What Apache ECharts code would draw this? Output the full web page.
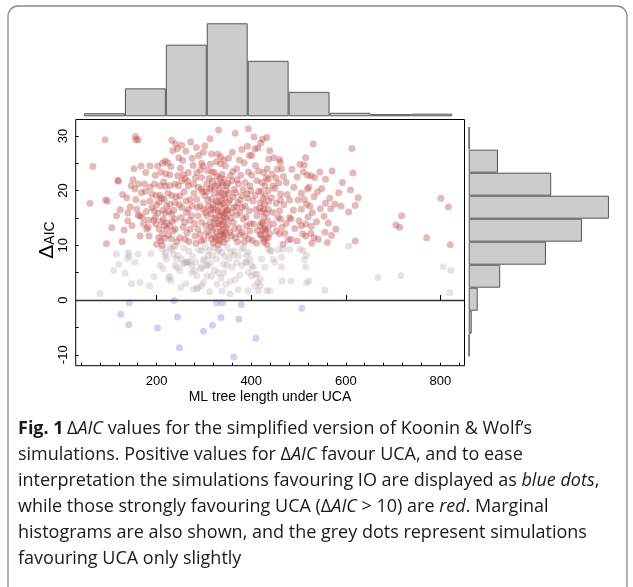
<!DOCTYPE html>
<html><head><meta charset="utf-8">
<script src="https://cdn.jsdelivr.net/npm/echarts@6/dist/echarts.min.js"></script>
<style>html,body{margin:0;padding:0;background:#fff}#c{width:633px;height:587px}</style>
</head><body><div id="c"></div>
<script>
// ---- data ----
const xTickLabels = [200, 400, 600, 800];
const xMinorTicks = [40, 80, 120, 160, 200, 240, 280, 320, 360, 400, 440, 480, 520, 560, 600, 640, 680, 720, 760, 800, 840];
const yTickLabels = [-10, 0, 10, 20, 30];
const yMinorTicks = [-10, -5, 0, 5, 10, 15, 20, 25, 30];
const topBins = ['0-100', '100-200', '200-300', '300-400', '400-500', '500-600', '600-700', '700-800', '800-900'];
const topCounts = [7, 64, 164, 213, 127, 56, 8, 5, 6];
const rightBins = ['-15--10', '-10--5', '-5-0', '0-5', '5-10', '10-15', '15-20', '20-25', '25-30', '30-35'];
const rightCounts = [1, 4, 12, 42, 103, 151, 187, 110, 39, 1];

const bluePts = [[142,-0.5],[124,-2.6],[141,-4.5],[202,-5.1],[237,-0.1],[244,-3.1],[248,-8.7],[299,-5.7],[318,-4.6],[327,-0.5],[336,-3.2],[339,-0.5],[363,-10.4],[374,-3.5],[379,-0.8],[410,-7.0],[507,-1.5]];

const greyPts = [[80,1.2],[109,5.4],[115,8.4],[133,4.9],[140,8.7],[139,7.6],[142,8.1],[154,6.9],[161,8.4],[165,3.2],[188,8.5],[185,2.6],[194,4.3],[207,6.3],[214,5.7],[218,8.1],[221,7.5],[225,4.0],[228,4.3],[239,9.9],[232,9.3],[235,8.4],[242,7.5],[239,6.3],[249,5.4],[256,6.6],[264,6.9],[271,6.9],[278,2.0],[288,2.3],[299,3.2],[274,5.0],[285,4.4],[294,6.0],[295,9.0],[299,7.2],[306,6.3],[309,8.1],[380,9.3],[394,8.7],[390,6.9],[401,6.3],[412,4.7],[419,3.8],[408,2.6],[415,1.7],[433,1.7],[440,9.0],[422,7.5],[429,6.0],
[436,9.3],[443,9.0],[457,9.2],[467,9.3],[481,9.3],[503,9.3],[510,9.0],[517,8.2],[512,7.4],[515,6.1],[464,6.1],[446,7.5],[450,6.9],[464,7.8],[439,1.7],[465,3.5],[484,3.5],[517,3.1],[522,3.5],[556,1.8],[668,4.1],[716,4.5],[806,6.1],[822,5.4],[820,1.4],[606,9.9],[120,6.5],[147,3.0],
[212,9.3],[219,8.7],[228,9.6],[237,9.8],[253,7.5],[260,6.8],[266,7.0],[274,6.3],[280,5.4],[283,6.9],[294,5.7],[301,7.5],[308,6.3],[311,9.0],[318,8.1],[327,7.5],[332,9.3],[338,8.7],[341,6.6],[348,6.3],[353,7.5],[357,8.7],[364,9.0],[369,6.9],[373,8.1],[380,6.3],[388,6.9],[394,5.1],[401,4.4],[408,4.7],[414,3.2],[419,2.6],[393,1.7],[338,1.7],[355,1.1],[346,2.9],[327,2.9],[316,4.4],[306,4.4],[295,2.6],[285,2.0],
[245,8.2],[257,9.5],[268,8.9],[276,8.0],[289,9.2],[303,9.7],[314,6.8],[322,5.5],[330,5.0],[336,4.0],[344,8.0],[350,9.6],[360,6.0],[366,3.7],[376,4.6],[384,9.5],[390,8.2],[398,7.4],[404,6.0],[363,8.2],[329,8.9],[320,9.6],[243,5.9],[230,3.5],[262,3.0],[251,2.3],[372,1.9],[356,3.4],[342,5.0],[312,1.5]];

const redPts = [[59,17.7],[65,24.4],[91,29.3],[92,18.3],[96,18.1],[94,10.3],[118,21.9],[119,21.7],[115,15.4],[123,16.5],[127,10.7],[139,15.9],[137,18.7],[139,14.5],[146,20.9],[155,29.9],[156,29.3],[161,29.3],[154,20.3],[156,18.4],[158,16.6],[161,15.5],[165,15.4],[172,13.9],[165,11.7],[174,21.2],[161,21.2],[179,13.0],[184,11.7],[182,13.3],[186,24.5],[186,20.6],[186,18.1],[190,16.9],[195,16.3],[197,22.8],[195,21.2],[202,24.5],[197,15.1],[198,13.9],[204,11.4],[209,10.8],[212,12.1],[200,10.2],[212,10.0],[207,20.9],[207,19.1],[209,23.4],[212,25.0],[218,25.4],[223,25.1],[216,18.4],[221,17.2],[218,15.9],[214,14.8],[221,13.0],[216,13.6],[228,22.9],[232,29.2],[240,28.5],[234,27.3],[244,27.7],[228,20.9],[239,21.2],[232,19.1],[228,17.5],[239,17.8],[232,15.7],[239,14.8],[228,13.6],[239,13.0],[247,26.0],[246,20.9],[253,21.8],[249,19.0],[253,16.9],[252,15.1],[256,13.3],[249,11.4],[260,11.1],[267,23.3],[260,22.2],[267,20.9],[271,18.4],[267,16.6],[272,28.9],[274,15.4],[271,13.0],[281,11.7],[283,10.4],[278,21.2],[288,20.6],[285,23.3],[285,18.4],[292,17.2],[288,15.4],[295,14.2],[287,13.0],[302,28.2],[313,29.5],[295,25.0],[295,22.4],[306,21.2],[302,19.1],[309,17.2],[306,15.4],[313,14.2],[306,12.4],[316,11.1],[316,26.7],[329,26.7],[317,23.4],[322,23.3],[331,31.1],[335,24.9],[338,23.0],[329,21.2],[345,24.5],[348,20.9],[359,21.8],[369,24.0],[366,30.5],[375,25.6],[373,21.2],[352,17.8],[359,16.0],[348,14.8],[362,14.2],[355,12.4],[366,11.4],[348,11.1],[380,19.1],[387,17.2],[376,16.0],[383,14.8],[390,13.6],[380,12.4],[387,11.7],[392,28.1],[394,31.3],[401,26.4],[408,27.6],[414,27.8],[394,23.4],[397,20.9],[412,21.8],[420,28.7],[424,29.4],[433,29.7],[415,23.6],[426,23.3],[429,20.9],[408,19.1],[419,17.8],[426,16.6],[412,15.4],[422,14.2],[429,13.0],[419,12.0],[426,11.1],[433,10.2],
[531,28.5],[613,27.7],[448,26.0],[460,25.7],[461,25.2],[455,23.9],[464,24.0],[486,23.9],[515,26.0],[512,24.7],[510,23.4],[519,22.8],[526,22.7],[534,22.4],[545,23.4],[557,22.1],[571,23.6],[615,23.2],[436,22.1],[446,20.9],[458,21.4],[474,21.5],[436,20.0],[443,18.7],[462,19.4],[462,18.3],[450,20.4],[481,18.3],[506,19.5],[519,20.3],[522,20.6],[512,18.4],[533,18.9],[517,17.5],[524,17.2],[566,18.6],[557,17.7],[577,17.5],[568,16.7],[610,20.1],[626,18.7],[620,17.3],[606,16.1],[801,18.6],[817,17.0],[436,16.6],[446,16.0],[460,16.3],[457,15.1],[462,14.8],[465,13.3],[471,12.2],[460,12.1],[478,11.0],[484,11.1],[467,10.2],[436,13.3],[436,11.4],[481,15.1],[484,14.8],[506,16.6],[520,15.2],[501,14.5],[506,13.6],[515,13.9],[527,13.5],[509,12.1],[515,11.7],[526,12.2],[533,11.4],[554,15.3],[556,12.4],[561,10.5],[579,13.0],[620,10.8],[718,15.4],[706,13.7],[714,13.3],[771,11.4],[821,10.1],
[218,20.8],[295,20.3],[316,20.6],[338,21.5],[387,21.5],
[322,19.6],[331,19.0],[338,18.2],[326,18.0],[343,19.3],[316,18.5],[334,17.3],[345,17.0],
[320,16.8],[330,16.2],[340,15.6],[325,15.0],[335,14.6],[345,15.9],[315,15.8],[350,16.5],
[322,13.9],[332,13.5],[341,12.8],[327,12.4],[337,12.0],[318,12.9],[346,13.2],
[325,11.3],[334,10.8],[342,10.5],[320,10.4],[330,10.1],[340,11.6],
[421,19.8],[425,18.6],[428,17.5],[422,16.2],[427,15.2],[424,14.0],[430,12.6],[421,11.8],[427,10.6],[423,21.5],[430,19.0],[418,16.8],[432,15.8],[419,13.6],[425,12.9],[431,11.4],
[150,22.0],[168,19.6],[172,17.8],[178,16.2],[170,15.1],[183,14.6],[176,19.9],[190,19.4],[194,14.6],[200,17.4],[203,15.9],[205,13.0],[210,14.3],[213,16.4],[211,18.6],[215,21.6],[219,23.1],[224,19.5],[226,16.2],[222,14.1],[225,11.9],[231,11.2],[235,12.6],[236,16.4],[241,18.9],[244,22.7],[250,24.1],[255,25.5],[258,19.8],[262,18.1],[259,14.2],[264,12.3],[268,10.7],[270,14.6],[275,17.3],[279,19.5],[282,22.3],[277,24.6],[289,26.4],[293,23.8],[297,19.8],[299,16.6],[292,12.0],[300,11.0],[304,13.6],[308,18.3],[311,22.2],[313,24.8],[299,27.0],[284,27.9],[262,27.2],[253,28.3],[275,25.9],
[352,19.5],[356,22.7],[362,18.8],[368,17.0],[364,20.2],[370,15.6],[374,13.2],[371,10.6],[378,22.8],[383,20.2],[385,25.1],[380,27.5],[360,27.0],[352,25.9],[391,19.4],[396,16.3],[398,14.0],[395,11.2],[401,22.8],[404,18.1],[405,13.9],[402,10.9],[409,24.6],[410,16.6],[413,12.7],[411,10.4],[416,19.9],[406,29.8],[396,26.4],[437,25.8],[439,27.3],[434,24.0],[432,22.3],[437,18.0],[435,14.5],[439,12.1],
[444,23.0],[452,22.3],[468,22.6],[476,19.3],[469,17.4],[453,17.7],[447,13.9],[453,12.6],[474,14.0],[489,16.4],[492,13.1],[497,10.8],[490,20.6],[497,22.5],[503,24.8],[499,18.3],[529,16.0],[538,14.3],[540,19.8],[549,20.4],[546,16.7],[542,11.1],[528,10.4],[563,14.1],[570,11.8],[585,19.6],[590,17.2],[593,21.5],
[105,13.2],[128,19.3],[131,12.8],[144,17.0],[148,13.6],[152,24.0],[167,24.5],[177,23.3],[199,19.1],
[205,17.9],[217,11.3],[230,24.4],[233,14.4],[243,10.7],[248,17.4],[256,22.9],[263,16.0],[266,21.7],[280,14.0],[286,16.9],[294,10.8],[298,24.5],
[303,16.0],[305,19.8],[308,23.7],[310,11.9],[312,20.3],[314,16.5],[315,13.3],[318,21.7],[319,17.4],[321,14.9],[323,11.6],[324,20.8],[326,16.5],[328,22.6],[329,14.0],[330,17.9],[331,11.0],[332,20.1],[333,15.4],[334,22.3],[335,12.5],[336,19.6],[337,16.1],[338,13.8],[339,21.0],[340,17.6],[341,14.3],[342,11.9],[343,22.1],[344,18.7],[345,15.2],[346,12.3],[347,20.0],[349,16.3],[350,13.7],[351,21.3],[354,18.3],[357,15.0],[358,11.8],[361,23.5],[363,16.9],[365,13.1],[367,19.6],[370,22.0],[372,17.8],[375,12.0],[377,18.3],[381,16.9],[385,10.6],[389,15.2],[393,18.6],[397,12.6],[399,20.0],[335,26.2],[342,25.6],[326,25.3]];

// ---- chart ----
const chart = echarts.init(document.getElementById('c'), null, {renderer: 'canvas'});
const axFont = {fontFamily: 'Liberation Sans, Arial, sans-serif', fontSize: 13, color: '#000'};
const capFont = 'Open Sans';
const capSize = 18;
const rich = {
  b: {fontFamily: capFont, fontSize: capSize, fontWeight: 'bold', fill: '#1a1a1a', color: '#1a1a1a'},
  n: {fontFamily: capFont, fontSize: capSize, fill: '#1a1a1a', color: '#1a1a1a'},
  i: {fontFamily: capFont, fontSize: capSize, fontStyle: 'italic', fill: '#1a1a1a', color: '#1a1a1a'}
};
const capLines = [
  '{b|Fig. 1} {n|\u0394}{i|AIC}{n| values for the simplified version of Koonin & Wolf\u2019s}',
  '{n|simulations. Positive values for \u0394}{i|AIC}{n| favour UCA, and to ease}',
  '{n|interpretation the simulations favouring IO are displayed as }{i|blue dots}{n|,}',
  '{n|while those strongly favouring UCA (\u0394}{i|AIC}{n| > 10) are }{i|red}{n|. Marginal}',
  '{n|histograms are also shown, and the grey dots represent simulations}',
  '{n|favouring UCA only slightly}'
];
const capMid = 429, capStep = 26;
const graphics = [
  {type: 'rect', shape: {x: 8, y: 6, width: 619, height: 640, r: 10}, style: {fill: 'none', stroke: '#8a8a8a', lineWidth: 1.3}, silent: true, z: -1},
  {type: 'text', x: 47, y: 240, rotation: Math.PI / 2,
   style: {text: '{d|\u0394}{s|AIC}', align: 'center', verticalAlign: 'middle',
     rich: {d: {fontFamily: 'Liberation Sans', fontSize: 21, fill: '#000'}, s: {fontFamily: 'Liberation Sans', fontSize: 14, fill: '#000', verticalAlign: 'bottom'}}}},
  {type: 'text', x: 270, y: 397, style: {text: 'ML tree length under UCA', align: 'center', verticalAlign: 'middle', font: '14px "Liberation Sans"', fill: '#000'}}
];
capLines.forEach((t, k) => graphics.push({type: 'text', x: 18, y: capMid + k * capStep,
  style: {text: t, rich: rich, align: 'left', verticalAlign: 'middle'}}));

chart.setOption({
  animation: false,
  backgroundColor: '#fff',
  grid: [
    {left: 75.7, top: 119.5, width: 388.8, height: 246.2, show: true, borderColor: '#000', borderWidth: 1, backgroundColor: 'transparent'},
    {left: 84, top: 11.5, width: 368.3, height: 104.8},
    {left: 468.7, top: 126.7, width: 150, height: 230}
  ],
  xAxis: [
    {type: 'value', gridIndex: 0, min: 28.8, max: 851, position: 'bottom', splitLine: {show: false}, axisLine: {show: false},
     axisTick: {inside: true, length: 5, lineStyle: {color: '#000'}, customValues: xTickLabels},
     axisLabel: Object.assign({customValues: xTickLabels, margin: 9}, axFont)},
    {type: 'value', gridIndex: 0, min: 28.8, max: 851, position: 'bottom', splitLine: {show: false}, axisLine: {show: false},
     axisTick: {inside: true, length: 3, lineStyle: {color: '#000'}, customValues: xMinorTicks},
     axisLabel: {show: false}},
    {type: 'category', gridIndex: 1, data: topBins, show: false},
    {type: 'value', gridIndex: 2, min: 0, max: 200, show: false}
  ],
  yAxis: [
    {type: 'value', gridIndex: 0, min: -12.0, max: 33.0, splitLine: {show: false}, axisLine: {show: false},
     axisTick: {inside: true, length: 3, lineStyle: {color: '#000'}, customValues: yMinorTicks},
     axisLabel: Object.assign({customValues: yTickLabels, rotate: 90, margin: 6}, axFont)},
    {type: 'value', gridIndex: 1, min: 0, max: 240, show: false},
    {type: 'category', gridIndex: 2, data: rightBins, show: false}
  ],
  graphic: graphics,
  series: [
    {type: 'scatter', xAxisIndex: 0, yAxisIndex: 0, data: greyPts, symbolSize: 7, itemStyle: {color: 'rgba(178,158,158,0.36)'}, silent: true,
     markLine: {silent: true, symbol: 'none', label: {show: false}, lineStyle: {color: '#30323f', width: 1.3, type: 'solid'}, data: [{yAxis: 0}]}},
    {type: 'scatter', xAxisIndex: 0, yAxisIndex: 0, data: redPts, symbolSize: 7, itemStyle: {color: 'rgba(188,70,70,0.47)'}, silent: true},
    {type: 'scatter', xAxisIndex: 0, yAxisIndex: 0, data: bluePts, symbolSize: 7, itemStyle: {color: 'rgba(110,120,215,0.42)'}, silent: true},
    {type: 'bar', xAxisIndex: 2, yAxisIndex: 1, data: topCounts, barCategoryGap: '0%', itemStyle: {color: '#cccccc', borderColor: '#555', borderWidth: 1}, silent: true},
    {type: 'bar', xAxisIndex: 3, yAxisIndex: 2, data: rightCounts, barCategoryGap: '0%', itemStyle: {color: '#cccccc', borderColor: '#555', borderWidth: 1}, silent: true}
  ]
});
</script></body></html>
